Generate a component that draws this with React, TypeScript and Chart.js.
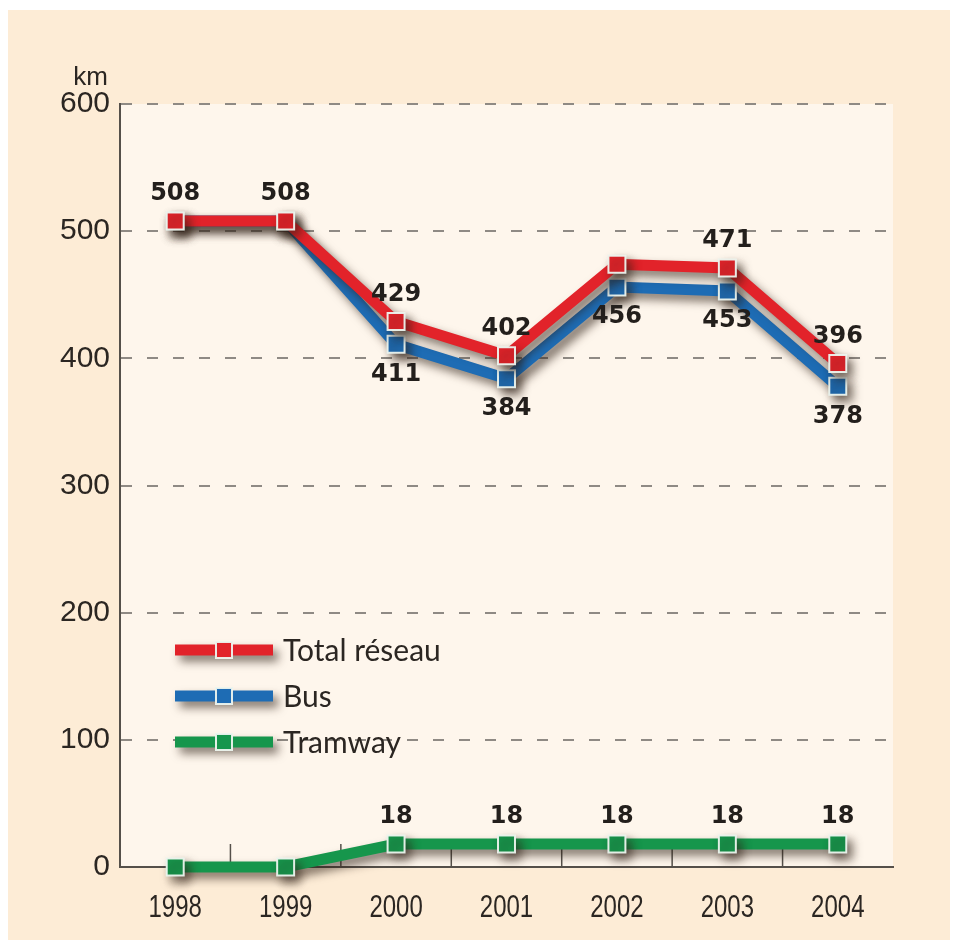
import React, { useEffect, useRef } from "react";
import { Chart, registerables } from "chart.js";

Chart.register(...registerables);

const years = ["1998", "1999", "2000", "2001", "2002", "2003", "2004"];
const totalReseau = [508, 508, 429, 402, 474, 471, 396];
const bus = [508, 508, 411, 384, 456, 453, 378];
const tramway = [0, 0, 18, 18, 18, 18, 18];
const totalLabels = ["508", "508", "429", "402", "", "471", "396"];
const busLabels = ["", "", "411", "384", "456", "453", "378"];
const tramLabels = ["", "", "18", "18", "18", "18", "18"];
const yTicks = [0, 100, 200, 300, 400, 500, 600];
const seriesNames = ["Total réseau", "Bus", "Tramway"];

const RED = "rgb(226,35,42)";
const BLUE = "rgb(30,108,180)";
const GREEN = "rgb(22,150,76)";
const colors = [RED, BLUE, GREEN];
const TEXT = "#2b2622";

function setShadow(ctx: CanvasRenderingContext2D) {
  ctx.shadowColor = "rgba(45,30,20,0.6)";
  ctx.shadowBlur = 10;
  ctx.shadowOffsetX = 5;
  ctx.shadowOffsetY = 6;
}

const decorPlugin = {
  id: "decor",
  beforeDraw(chart: any) {
    const { ctx, chartArea } = chart;
    ctx.save();
    ctx.fillStyle = "rgb(254,246,236)";
    ctx.fillRect(chartArea.left, chartArea.top, chartArea.right - chartArea.left, chartArea.bottom - chartArea.top);
    ctx.restore();
  },
  beforeDatasetsDraw(chart: any) {
    const { ctx, chartArea, scales } = chart;
    const x = scales.x;
    ctx.save();
    ctx.strokeStyle = "#55504a";
    ctx.lineWidth = 1.5;
    for (let i = 0; i < years.length - 1; i++) {
      const px = (x.getPixelForValue(i) + x.getPixelForValue(i + 1)) / 2;
      ctx.beginPath();
      ctx.moveTo(px, chartArea.bottom);
      ctx.lineTo(px, chartArea.bottom - 23);
      ctx.stroke();
    }
    // km label
    ctx.fillStyle = TEXT;
    ctx.font = "26px 'Liberation Sans', Arial, sans-serif";
    ctx.textAlign = "right";
    ctx.textBaseline = "middle";
    ctx.fillText("km", chartArea.left - 12, 68);
    // condensed x tick labels
    ctx.font = "30px 'Liberation Sans', Arial, sans-serif";
    ctx.textAlign = "center";
    ctx.textBaseline = "middle";
    years.forEach((yr, i) => {
      const px = x.getPixelForValue(i);
      ctx.save();
      ctx.translate(px, chartArea.bottom + 42);
      ctx.scale(0.8, 1.02);
      ctx.fillText(yr, 0, 0);
      ctx.restore();
    });
    ctx.restore();
  },
  beforeDatasetDraw(chart: any) {
    chart.ctx.save();
    setShadow(chart.ctx);
  },
  afterDatasetDraw(chart: any) {
    chart.ctx.restore();
  },
  afterDatasetsDraw(chart: any) {
    const { ctx } = chart;
    const lists = [totalLabels, busLabels, tramLabels];
    const offsets = [-27, 30, -27];
    ctx.save();
    ctx.fillStyle = "#231f1c";
    ctx.font = "bold 24px 'DejaVu Sans', sans-serif";
    ctx.textAlign = "center";
    ctx.textBaseline = "middle";
    lists.forEach((labels, di) => {
      const meta = chart.getDatasetMeta(di);
      meta.data.forEach((pt: any, i: number) => {
        if (labels[i]) ctx.fillText(labels[i], pt.x, pt.y + offsets[di]);
      });
    });
    // legend
    const legY = [640, 686, 732];
    const x0 = 167;
    const x1 = 265;
    const xm = 216;
    seriesNames.forEach((name, i) => {
      const y = legY[i];
      ctx.save();
      setShadow(ctx);
      ctx.strokeStyle = colors[i];
      ctx.lineWidth = 11;
      ctx.lineCap = "butt";
      ctx.beginPath();
      ctx.moveTo(x0, y);
      ctx.lineTo(x1, y);
      ctx.stroke();
      ctx.restore();
      ctx.fillStyle = colors[i];
      ctx.fillRect(xm - 8, y - 8, 16, 16);
      ctx.strokeStyle = "rgba(236,244,238,0.95)";
      ctx.lineWidth = 2;
      ctx.strokeRect(xm - 8, y - 8, 16, 16);
      ctx.fillStyle = TEXT;
      ctx.font = "30px Lato, 'Open Sans', sans-serif";
      ctx.textAlign = "left";
      ctx.textBaseline = "middle";
      ctx.fillText(name, 275, y + 1);
    });
    ctx.restore();
  },
};

export default function App() {
  const ref = useRef<HTMLCanvasElement | null>(null);
  useEffect(() => {
    if (!ref.current) return;
    const mk = (label: string, data: number[], color: string) => ({
      label,
      data,
      borderColor: color,
      backgroundColor: color,
      borderWidth: 11,
      pointStyle: "rect",
      pointRadius: 12,
      pointHoverRadius: 12,
      pointBackgroundColor: color,
      pointBorderColor: "rgba(236,244,238,0.95)",
      pointBorderWidth: 2,
      tension: 0,
      clip: false,
      borderJoinStyle: "miter",
    });
    const chart = new Chart(ref.current, {
      type: "line",
      data: {
        labels: years,
        datasets: [
          mk(seriesNames[0], totalReseau, RED),
          mk(seriesNames[1], bus, BLUE),
          mk(seriesNames[2], tramway, GREEN),
        ] as any,
      },
      options: {
        animation: false,
        responsive: false,
        layout: { padding: { top: 94, right: 57, left: 0, bottom: 0 } },
        plugins: { legend: { display: false }, tooltip: { enabled: false } },
        scales: {
          x: {
            offset: true,
            afterFit: (s: any) => {
              s.height = 73;
            },
            grid: { display: false, drawTicks: false },
            border: { display: true, color: "#55504a", width: 2 },
            ticks: { display: false },
          },
          y: {
            min: 0,
            max: 600,
            afterFit: (s: any) => {
              s.width = 112;
            },
            afterBuildTicks: (s: any) => {
              s.ticks = yTicks.map((v) => ({ value: v }));
            },
            grid: {
              color: "#8f8a84",
              lineWidth: 2,
              drawTicks: false,
            },
            border: { display: true, color: "#55504a", width: 2, dash: [11, 15] } as any,
            ticks: {
              padding: 10,
              color: TEXT,
              font: { family: "'Liberation Sans', Arial, sans-serif", size: 30 },
            },
          },
        },
      } as any,
      plugins: [decorPlugin],
    });
    return () => chart.destroy();
  }, []);
  return (
    <div
      style={{
        position: "absolute",
        left: 8,
        top: 10,
        width: 942,
        height: 930,
        background: "rgb(253,236,214)",
      }}
    >
      <canvas ref={ref} width={942} height={930} style={{ display: "block", width: 942, height: 930 }} />
    </div>
  );
}
